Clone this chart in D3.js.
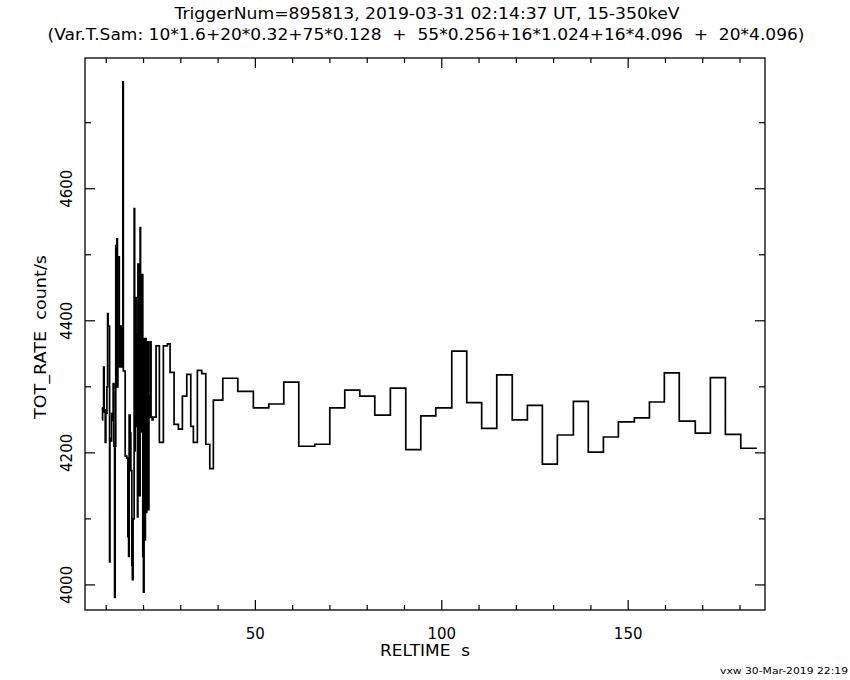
<!DOCTYPE html>
<html>
<head>
<meta charset="utf-8">
<script src="https://cdn.jsdelivr.net/npm/d3@7"></script>
<style>
  body { margin: 0; background: #fff; }
  text { font-family: "DejaVu Sans", Arial, sans-serif; fill: #000; }
</style>
</head>
<body>
<svg width="850" height="680"></svg>
<script>
// bin start times (s) and rates (count/s); last time is the end of the final bin
const fastT = [8.84, 9.02, 9.15, 9.29, 9.45, 9.73, 9.9, 10.18, 10.36, 10.5, 10.89, 11.0, 11.25, 11.45,
  11.69, 11.85, 12.05, 12.23, 12.40, 12.55, 12.67, 12.85, 13.0, 13.12, 13.21, 13.38, 13.5, 13.65, 13.8,
  14.0, 14.19, 14.45, 14.58, 15.08, 15.52, 15.79, 16.0, 16.14, 16.41, 16.6, 16.86, 17.0, 17.2, 17.48,
  17.62, 17.75, 17.9, 18.01, 18.19, 18.37, 18.5, 18.64, 18.8, 18.9, 19.08, 19.2, 19.44, 19.62, 19.8,
  19.97, 20.15, 20.3, 20.5, 20.69, 20.86, 21.0, 21.13, 21.31, 21.45, 21.58, 21.8, 22.02, 22.29, 22.56,
  23.36, 24.25, 25.32, 26.4];
const fastV = [4250, 4268, 4262, 4330, 4265, 4216, 4260, 4300, 4411, 4392, 4035, 4222, 4218, 4260,
  4249, 4305, 4210, 3981, 4210, 4514, 4320, 4524, 4300, 4497, 4330, 4497, 4330, 4392, 4330,
  4392, 4330, 4762, 4324, 4195, 4192, 4073, 4043, 4257, 4230, 4173, 4030, 4008, 4100, 4570,
  4203, 4300, 4435, 4240, 4380, 4103, 4486, 4238, 4380, 4135, 4541, 4232, 4340, 4470, 4043,
  3989, 4373, 4068, 4373, 4110, 4368, 4114, 4368, 4114, 4286, 4254, 4368, 4254, 4250, 4254,
  4362, 4216, 4362, 4365];
const midT = [27.12, 28.19, 29.35, 30.42, 31.6, 32.67, 33.37, 34.44, 35.62, 36.7, 37.77, 38.73];
const midV = [4322, 4243, 4236, 4286, 4319, 4240, 4216, 4325, 4320, 4213, 4176, 4280];
const slowT = [41.26, 45.28, 49.46, 53.59, 57.62, 61.64, 65.93, 69.96, 73.98, 78.0, 82.03, 86.21,
  90.34, 94.37, 98.39, 102.68, 106.7, 110.7, 114.75, 118.9, 122.96, 126.98, 131.0, 135.3, 139.3,
  143.35, 147.37, 151.66, 155.7, 159.7, 163.7, 168.0, 172.05, 176.07, 180.2, 184.5];
const slowV = [4313, 4293, 4268, 4274, 4307, 4210, 4213, 4268, 4295, 4286, 4257, 4298,
  4205, 4256, 4268, 4354, 4276, 4237, 4318, 4250, 4272, 4183, 4227, 4278, 4201,
  4224, 4247, 4253, 4277, 4321, 4248, 4230, 4314, 4228, 4207];

const xTicks = [50, 100, 150];
const yTicks = [4000, 4200, 4400, 4600];

const plot = {l: 85, r: 765, t: 58, b: 610};
const svg = d3.select('svg');

const x = d3.scaleLinear().domain([4.3, 186.7]).range([plot.l, plot.r]);
const y = d3.scaleLinear().domain([3962, 4798]).range([plot.b, plot.t]);

// assemble step points
let pts = [];
fastT.forEach((t, i) => pts.push([t, fastV[i]]));
midT.forEach((t, i) => pts.push([t, midV[i]]));
slowT.forEach((t, i) => { if (i < slowV.length) pts.push([t, slowV[i]]); });
pts.push([slowT[slowT.length - 1], slowV[slowV.length - 1]]);

const line = d3.line().x(d => x(d[0])).y(d => y(d[1])).curve(d3.curveStepAfter);
svg.append('path').datum(pts)
  .attr('d', line)
  .attr('fill', 'none').attr('stroke', '#000').attr('stroke-width', 1.7);

// frame
svg.append('rect')
  .attr('x', plot.l).attr('y', plot.t)
  .attr('width', plot.r - plot.l).attr('height', plot.b - plot.t)
  .attr('fill', 'none').attr('stroke', '#000').attr('stroke-width', 1.3);

// inward ticks on all four sides
const g = svg.append('g').attr('stroke', '#000').attr('stroke-width', 1.2);
d3.range(10, 190, 10).forEach(v => {
  const len = v % 50 === 0 ? 10 : 5;
  g.append('line').attr('x1', x(v)).attr('x2', x(v)).attr('y1', plot.b).attr('y2', plot.b - len);
  g.append('line').attr('x1', x(v)).attr('x2', x(v)).attr('y1', plot.t).attr('y2', plot.t + len);
});
d3.range(4000, 4800, 100).forEach(v => {
  const len = v % 200 === 0 ? 10 : 6;
  g.append('line').attr('y1', y(v)).attr('y2', y(v)).attr('x1', plot.l).attr('x2', plot.l + len);
  g.append('line').attr('y1', y(v)).attr('y2', y(v)).attr('x1', plot.r).attr('x2', plot.r - len);
});

svg.selectAll('text.xt').data(xTicks).enter().append('text')
  .attr('x', d => x(d)).attr('y', plot.b + 29)
  .attr('text-anchor', 'middle').attr('font-size', 15).text(d => d);
svg.selectAll('text.yt').data(yTicks).enter().append('text')
  .attr('transform', d => `translate(${plot.l - 13}, ${y(d)}) rotate(-90)`)
  .attr('text-anchor', 'middle').attr('font-size', 15).text(d => d);

svg.append('text').attr('x', 425).attr('y', 656).attr('text-anchor', 'middle')
  .attr('font-size', 15).attr('xml:space', 'preserve')
  .attr('textLength', 90).attr('lengthAdjust', 'spacingAndGlyphs').text('RELTIME  s');
svg.append('text').attr('transform', 'translate(46, 337) rotate(-90)')
  .attr('text-anchor', 'middle').attr('font-size', 15)
  .attr('textLength', 164).attr('lengthAdjust', 'spacingAndGlyphs')
  .attr('xml:space', 'preserve').text('TOT_RATE  count/s');

svg.append('text').attr('x', 427).attr('y', 19).attr('text-anchor', 'middle')
  .attr('font-size', 15).attr('textLength', 505).attr('lengthAdjust', 'spacingAndGlyphs')
  .text('TriggerNum=895813, 2019-03-31 02:14:37 UT, 15-350keV');
svg.append('text').attr('x', 426).attr('y', 40).attr('text-anchor', 'middle')
  .attr('font-size', 15).attr('xml:space', 'preserve')
  .attr('textLength', 757).attr('lengthAdjust', 'spacingAndGlyphs')
  .text('(Var.T.Sam: 10*1.6+20*0.32+75*0.128  +  55*0.256+16*1.024+16*4.096  +  20*4.096)');
svg.append('text').attr('x', 848).attr('y', 674).attr('text-anchor', 'end')
  .attr('font-size', 9.5).attr('textLength', 128).attr('lengthAdjust', 'spacingAndGlyphs')
  .text('vxw 30-Mar-2019 22:19');
</script>
</body>
</html>
